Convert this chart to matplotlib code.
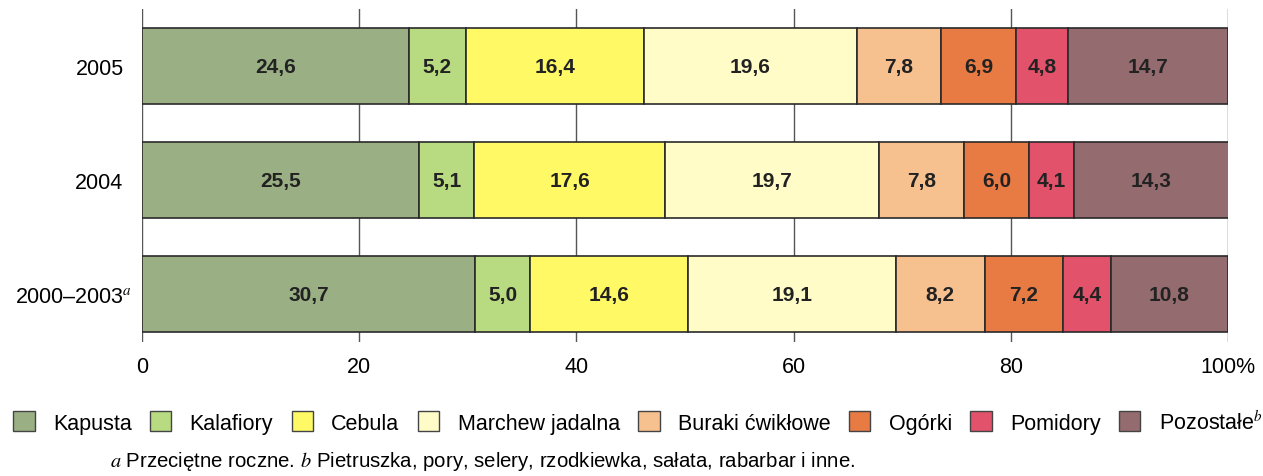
import matplotlib.pyplot as plt
from matplotlib.patches import Patch
import numpy as np

plt.rcParams['font.family'] = ['Liberation Sans', 'DejaVu Sans']
plt.rcParams['mathtext.fontset'] = 'stix'

years = ['2000–2003$^{a}$', '2004', '2005']
categories = ['Kapusta', 'Kalafiory', 'Cebula', 'Marchew jadalna',
              'Buraki ćwikłowe', 'Ogórki', 'Pomidory', 'Pozostałe$^{b}$']
kapusta = [30.7, 25.5, 24.6]
kalafiory = [5.0, 5.1, 5.2]
cebula = [14.6, 17.6, 16.4]
marchew = [19.1, 19.7, 19.6]
buraki = [8.2, 7.8, 7.8]
ogorki = [7.2, 6.0, 6.9]
pomidory = [4.4, 4.1, 4.8]
pozostale = [10.8, 14.3, 14.7]
series = [kapusta, kalafiory, cebula, marchew, buraki, ogorki, pomidory, pozostale]
colors = ['#9AAF84', '#B8DA80', '#FFF966', '#FFFCC8',
          '#F6C08F', '#E87A43', '#E2526A', '#946B6E']

fs = 15.5

fig = plt.figure(figsize=(12.63, 4.77), dpi=100)
ax = fig.add_axes([0.1124, 0.281, 0.8599, 0.698])

y = np.arange(len(years))
left = np.zeros(len(years))
for vals, col in zip(series, colors):
    vals = np.array(vals)
    ax.barh(y, vals, left=left, height=0.66, color=col,
            edgecolor='#2a2a2a', linewidth=1.2, zorder=3)
    for yi, l, v in zip(y, left, vals):
        ax.text(l + v / 2, yi, f'{v:.1f}'.replace('.', ','), ha='center',
                va='center', fontsize=15, fontweight='bold', color='#222222',
                zorder=4)
    left += vals

ax.set_xlim(0, 100)
ax.set_ylim(-0.42, 2.5)
ax.set_xticks([0, 20, 40, 60, 80, 100])
ax.set_xticklabels(['0', '20', '40', '60', '80', '100%'], fontsize=fs)
ax.set_yticks(y)
ax.set_yticklabels(years, fontsize=fs)
ax.tick_params(axis='x', length=0, pad=10)
ax.tick_params(axis='y', length=0, pad=7)
ax.xaxis.grid(True, color='#555555', linewidth=1.0, zorder=0)
for s in ax.spines.values():
    s.set_visible(False)
# plain year labels sit a little further from the bars than the one with a superscript
for lab in ax.get_yticklabels()[1:]:
    lab.set_x(-0.008)

handles = [Patch(facecolor=c, edgecolor='#444444', linewidth=1.0) for c in colors]
fig.legend(handles, categories, loc='center', bbox_to_anchor=(0.505, 0.113),
           ncol=8, frameon=False, fontsize=fs, handlelength=1.0,
           handleheight=1.05, columnspacing=0.85, handletextpad=0.85)

fig.text(0.087, 0.02, '$a$ Przeciętne roczne. $b$ Pietruszka, pory, selery, '
         'rzodkiewka, sałata, rabarbar i inne.', fontsize=14.7)

fig.savefig('out.png', dpi=100)
